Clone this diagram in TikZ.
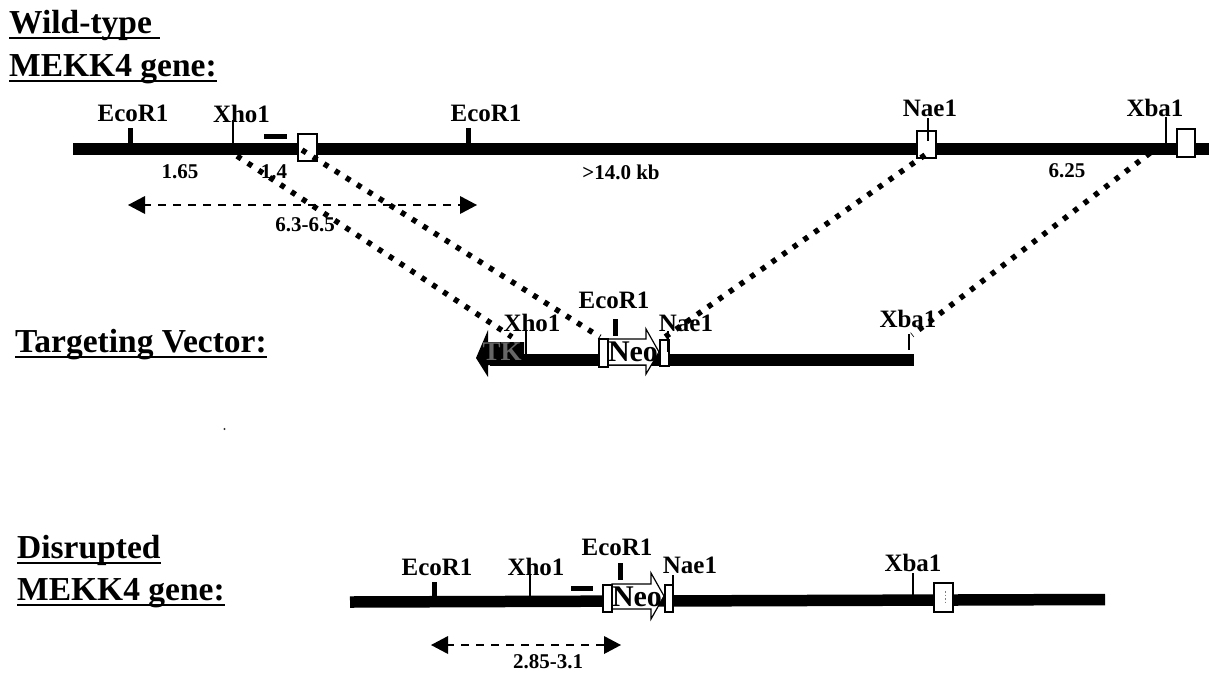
\documentclass[tikz,border=0pt]{standalone}
\usepackage{fontspec}
\setmainfont{Liberation Serif}
\newcommand{\headul}[1]{\setbox0\hbox{#1}\rlap{\rule[-6pt]{\wd0}{1.8pt}}\box0}
\begin{document}
\begin{tikzpicture}[x=1pt,y=-1pt,
  dna/.style={line width=11.5pt,black},
  thicktick/.style={line width=5pt},
  thintick/.style={line width=1.5pt},
  exonbox/.style={draw=black,fill=white,line width=1.2pt,minimum width=0pt,minimum height=0pt,inner sep=0pt},
  site/.style={font=\fontsize{25}{25}\selectfont\bfseries,inner sep=0pt},
  size/.style={font=\fontsize{21}{21}\selectfont\bfseries,inner sep=0pt},
  heading/.style={font=\fontsize{33.5}{33.5}\selectfont\bfseries,inner sep=0pt,anchor=base west},
  neotext/.style={font=\fontsize{30}{30}\selectfont\bfseries,inner sep=0pt},
  homology/.style={line width=5.5pt,dash pattern=on 5pt off 8pt},
  span/.style={line width=2pt,dash pattern=on 8pt off 7pt},
  spanhead/.style={fill=black,draw=none},
  blockarrow/.style={draw=black,line width=1.2pt,fill=white,line join=miter}]
\useasboundingbox (0,0) rectangle (1209,673);
% headings
\node[heading] (h1) at (9,33) {\headul{Wild-type\ }};
\node[heading] (h2) at (9,76) {\headul{MEKK4 gene:}};
\node[heading] (h3) at (15,352) {\headul{Targeting Vector:}};
\node[heading] (h4) at (17,558) {\headul{Disrupted}};
\node[heading] (h5) at (17,600) {\headul{MEKK4 gene:}};
% wild type
\coordinate (wl) at (73,149); \coordinate (wr) at (1209,149);
\draw[dna] (wl) -- (wr);
\draw[thicktick] (130,128) -- (130,146);
\draw[thintick] (233,120) -- (233,146);
\draw[thicktick] (264,136) -- (287,136);
\draw[thicktick] (468,128) -- (468,146);
\node[exonbox,minimum width=19pt,minimum height=27pt] (e1) at (307.5,147.5) {};
\node[exonbox,minimum width=19pt,minimum height=27pt] (e2) at (926.5,144.5) {};
\node[exonbox,minimum width=18pt,minimum height=28pt] (e3) at (1186,143) {};
\draw[thintick] (928,118) -- (928,141);
\draw[thintick] (1166,117) -- (1166,144);
\node[site] (w1) at (133,113.5) {EcoR1};
\node[site] (w2) at (241.5,113.5) {Xho1};
\node[site] (w3) at (486,113.5) {EcoR1};
\node[site] (w4) at (930,108) {Nae1};
\node[site] (w5) at (1155,108) {Xba1};
\node[size] (s1) at (180,171.5) {1.65};
\node[size] (s2) at (274,171.5) {1.4};
\node[size] (s3) at (621,172) {>14.0 kb};
\node[size] (s4) at (1067,170.5) {6.25};
\node[size] (s5) at (305,225) {6.3-6.5};
% dashed span top
\coordinate (a1) at (128,205); \coordinate (a2) at (477,205);
\draw[span] (143,205) -- (462,205);
\fill[spanhead] (a1) -- (145,196) -- (145,214) -- cycle;
\fill[spanhead] (a2) -- (460,196) -- (460,214) -- cycle;
% vector
\coordinate (vl) at (490,360); \coordinate (vr) at (914,360);
\draw[dna] (vl) -- (vr);
\fill[black] (476,358) -- (488,330) -- (488,342) -- (524,342) -- (524,365) -- (488,365) -- (488,377) -- cycle;
\node[font=\fontsize{27}{27}\selectfont\bfseries,text=black!60,inner sep=0pt] (tk) at (502,352) {TK};
\draw[blockarrow] (607,339) -- (646,339) -- (646,329) -- (659,352) -- (646,374) -- (646,365) -- (607,365) -- cycle;
\node[neotext] (neo1) at (633,352) {Neo};
\node[exonbox,minimum width=9pt,minimum height=28pt] (vb1) at (603.5,353) {};
\node[exonbox,minimum width=9pt,minimum height=26pt] (vb2) at (664.5,353) {};
\draw[thintick] (526,331) -- (526,356);
\draw[thicktick] (615,319) -- (615,336);
\draw[thintick] (668,331) -- (668,352);
\draw[thintick] (909,334) -- (909,350);
\node[site] (v1) at (532,323) {Xho1};
\node[site] (v2) at (614,300) {EcoR1};
\node[site] (v3) at (686,323) {Nae1};
\node[site] (v4) at (908,319) {Xba1};
% homology lines
\coordinate (p1) at (237,156); \coordinate (q1) at (512,337);
\coordinate (p2) at (302,150); \coordinate (q2) at (600,337);
\coordinate (p3) at (925,155); \coordinate (q3) at (665,337);
\coordinate (p4) at (1150,153); \coordinate (q4) at (912,335);
\draw[homology] (p1) -- (q1);
\draw[homology] (p2) -- (q2);
\draw[homology] (p3) -- (q3);
\draw[homology] (p4) -- (q4);
% disrupted
\coordinate (dl) at (350,602); \coordinate (dr) at (1105,599.5);
\draw[dna] (dl) -- (dr);
\draw[thicktick] (434,582) -- (434,598);
\draw[thintick] (530,575) -- (530,598);
\draw[thicktick] (571,588) -- (593,588);
\draw[thicktick] (620,563) -- (620,580);
\draw[thintick] (913,573) -- (913,596);
\draw[blockarrow] (612,584) -- (651,584) -- (651,573) -- (664,596) -- (651,619) -- (651,609) -- (612,609) -- cycle;
\node[neotext] (neo2) at (637,597) {Neo};
\node[exonbox,minimum width=9pt,minimum height=27pt] (db1) at (607.5,598.5) {};
\node[exonbox,minimum width=8pt,minimum height=27pt] (db2) at (669,598.5) {};
\draw[thintick] (673,575) -- (673,595);
\node[exonbox,minimum width=19pt,minimum height=29pt] (db3) at (943.5,597.5) {};
\draw[line width=1pt,black!50,dash pattern=on 1.5pt off 2pt] (945,591) -- (945,604);
\node[site] (d1) at (437,567) {EcoR1};
\node[site] (d2) at (536,567) {Xho1};
\node[site] (d3) at (617,547) {EcoR1};
\node[site] (d4) at (690,565) {Nae1};
\node[site] (d5) at (913,563) {Xba1};
\coordinate (b1) at (431,645); \coordinate (b2) at (621,645);
\draw[span] (446,645) -- (606,645);
\fill[spanhead] (b1) -- (448,636) -- (448,654) -- cycle;
\fill[spanhead] (b2) -- (604,636) -- (604,654) -- cycle;
\node[size] (s6) at (548,662) {2.85-3.1};
% specks
\fill[black!80] (224.5,429) circle (1.2pt);
\end{tikzpicture}
\end{document}
